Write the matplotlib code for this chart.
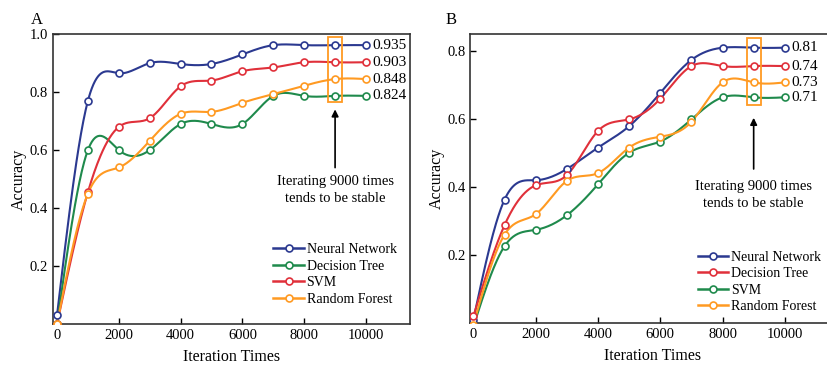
import numpy as np
import matplotlib
matplotlib.use('Agg')
import matplotlib.pyplot as plt
from matplotlib.patches import Rectangle

plt.rcParams['font.family'] = ['Liberation Serif', 'DejaVu Serif']
plt.rcParams['mathtext.fontset'] = 'stix'

iters = [0, 1000, 2000, 3000, 4000, 5000, 6000, 7000, 8000, 9000, 10000]

# Panel A
a_nn = [0.03, 0.77, 0.865, 0.90, 0.897, 0.897, 0.93, 0.962, 0.962, 0.962, 0.962]
a_dt = [0.0, 0.60, 0.60, 0.60, 0.69, 0.69, 0.69, 0.787, 0.787, 0.787, 0.787]
a_svm = [0.0, 0.455, 0.68, 0.71, 0.82, 0.84, 0.872, 0.885, 0.903, 0.903, 0.903]
a_rf = [0.0, 0.45, 0.54, 0.632, 0.725, 0.732, 0.763, 0.793, 0.822, 0.845, 0.845]
a_final = ['0.935', '0.903', '0.848', '0.824']

# Panel B
b_nn = [0.01, 0.363, 0.42, 0.453, 0.516, 0.579, 0.677, 0.774, 0.81, 0.81, 0.81]
b_dt = [0.02, 0.288, 0.405, 0.435, 0.565, 0.599, 0.66, 0.756, 0.756, 0.756, 0.756]
b_svm = [-0.01, 0.226, 0.274, 0.317, 0.408, 0.501, 0.534, 0.599, 0.664, 0.664, 0.664]
b_rf = [-0.005, 0.26, 0.32, 0.418, 0.441, 0.516, 0.548, 0.592, 0.708, 0.708, 0.708]
b_final = ['0.81', '0.74', '0.73', '0.71']

names = ['Neural Network', 'Decision Tree', 'SVM', 'Random Forest']

BLUE = '#2b3990'
GREEN = '#1f8a4c'
RED = '#e0303a'
ORANGE = '#ff9a22'


def spline(x, y, n=400):
    # natural cubic spline through the data points (smooth rendering only)
    x = np.asarray(x, float)
    y = np.asarray(y, float)
    k = len(x)
    h = np.diff(x)
    A = np.zeros((k, k))
    r = np.zeros(k)
    A[0, 0] = A[-1, -1] = 1
    for i in range(1, k - 1):
        A[i, i - 1] = h[i - 1]
        A[i, i] = 2 * (h[i - 1] + h[i])
        A[i, i + 1] = h[i]
        r[i] = 6 * ((y[i + 1] - y[i]) / h[i] - (y[i] - y[i - 1]) / h[i - 1])
    M = np.linalg.solve(A, r)
    xs = np.linspace(x[0], x[-1], n)
    idx = np.clip(np.searchsorted(x, xs) - 1, 0, k - 2)
    x0, x1 = x[idx], x[idx + 1]
    hh = x1 - x0
    t0, t1 = x1 - xs, xs - x0
    ys = (M[idx] * t0**3 + M[idx + 1] * t1**3) / (6 * hh) \
        + (y[idx] / hh - M[idx] * hh / 6) * t0 \
        + (y[idx + 1] / hh - M[idx + 1] * hh / 6) * t1
    return xs, ys


def draw(ax, series, colors, labels, finals, ylim, yticks, box, arrow, text_y, leg_y):
    for ys, c, lab in zip(series, colors, labels):
        xs, sm = spline(iters, ys)
        ax.plot(xs, sm, color=c, lw=1.5, zorder=2)
        ax.plot(iters, ys, 'o', color=c, mfc='white', ms=5, mew=1.2, zorder=3)
        ax.plot([], [], '-o', color=c, mfc='white', ms=5, mew=1.2, lw=1.8, label=lab)
    order = np.argsort([-s[-1] for s in series])
    for j, i in enumerate(order):
        ax.text(10200, series[i][-1], finals[j], fontsize=11, va='center', ha='left')
    ax.add_patch(Rectangle((8780, box[0]), 440, box[1] - box[0], fill=False,
                           edgecolor=ORANGE, lw=1.3, zorder=4))
    ax.annotate('', xy=(9000, arrow[1]), xytext=(9000, arrow[0]),
                arrowprops=dict(arrowstyle='-|>', color='black', lw=1.2,
                                mutation_scale=10))
    ax.text(9000, text_y, 'Iterating 9000 times\ntends to be stable', ha='center',
            va='top', fontsize=10.5, linespacing=1.4)
    ax.set_ylim(*ylim)
    ax.set_yticks(yticks)
    ax.set_xticks([0, 2000, 4000, 6000, 8000, 10000])
    ax.tick_params(direction='in', labelsize=10.5, width=1, length=4)
    ax.set_xlabel('Iteration Times', fontsize=11.5, labelpad=5)
    ax.set_ylabel('Accuracy', fontsize=11.5, labelpad=2)
    for s in ax.spines.values():
        s.set_linewidth(1.2)
        s.set_color('#333333')
    ax.legend(loc='lower right', bbox_to_anchor=(0.99, leg_y), frameon=False, fontsize=10,
              handlelength=2.2, handletextpad=0.2, labelspacing=0.25, borderpad=0.2)


fig = plt.figure(figsize=(8.28, 3.67), dpi=100)
axA = fig.add_axes([0.064, 0.117, 0.431, 0.790])
axB = fig.add_axes([0.568, 0.120, 0.440, 0.787])

draw(axA, [a_nn, a_dt, a_svm, a_rf], [BLUE, GREEN, RED, ORANGE], names, a_final,
     (0, 1.0), [0.2, 0.4, 0.6, 0.8, 1.0], (0.766, 0.99), (0.53, 0.75), 0.515, 0.03)
axA.set_xlim(-130, 11420)
axA.set_yticklabels(['0.2', '0.4', '0.6', '0.8', '1.0'])

draw(axB, [b_nn, b_dt, b_svm, b_rf], [BLUE, RED, GREEN, ORANGE], names, b_final,
     (0, 0.85), [0.2, 0.4, 0.6, 0.8], (0.641, 0.838), (0.445, 0.612), 0.42, 0.0)
axB.set_xlim(-100, 11600)

fig.text(0.037, 0.935, 'A', fontsize=12)
fig.text(0.538, 0.935, 'B', fontsize=12)

fig.savefig('out.png', dpi=100)
